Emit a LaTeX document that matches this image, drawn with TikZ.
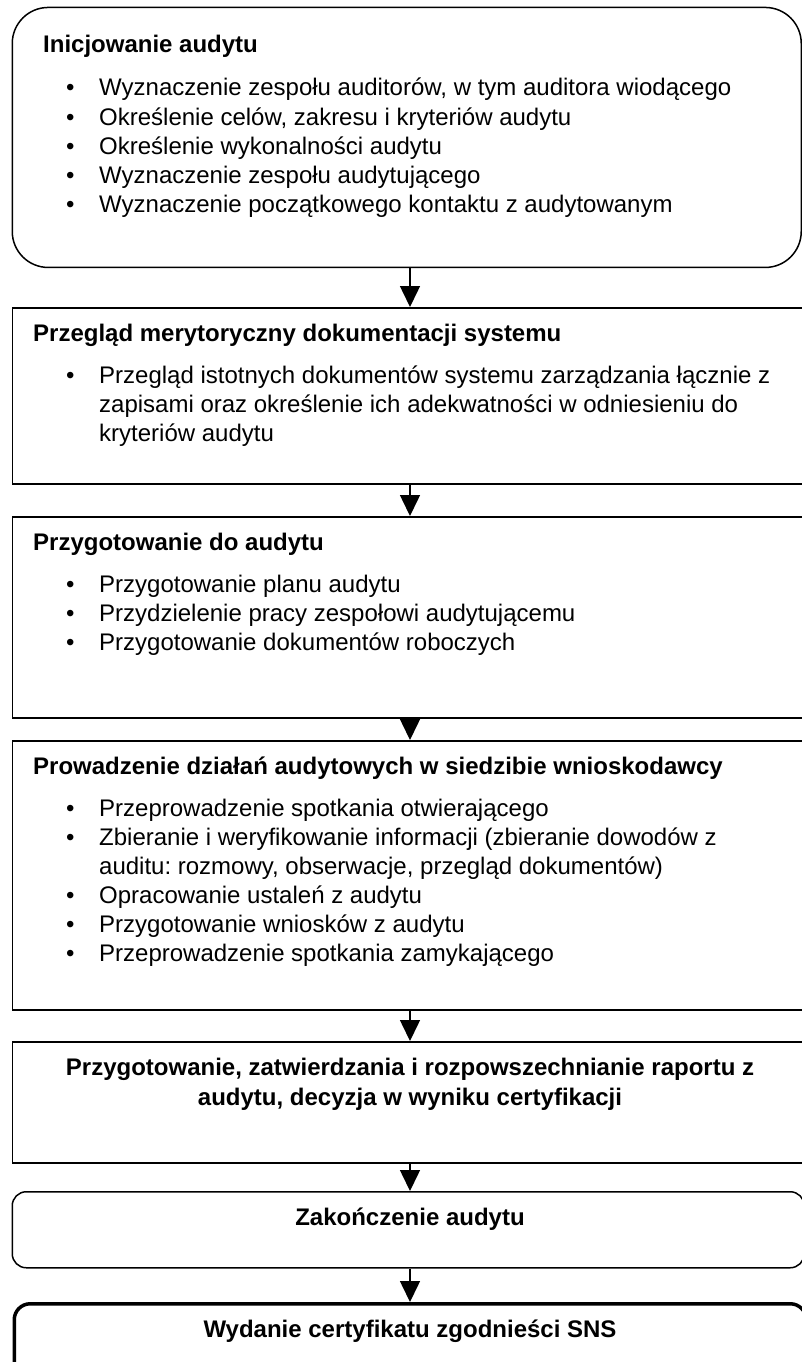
\documentclass[tikz,border=0pt]{standalone}
\usepackage{fontspec}
\setmainfont{Liberation Sans}
\usetikzlibrary{arrows.meta,calc}
\frenchspacing
\begin{document}
\begin{tikzpicture}[x=1pt,y=-1pt,
  box/.style={draw=black, line width=1.5pt, rectangle, anchor=north west, inner sep=0pt, minimum width=792pt},
  conn/.style={line width=1.5pt, -{Triangle[width=20pt,length=21pt]}},
  ttl/.style={anchor=base west, inner sep=0pt, font=\fontsize{24}{29}\selectfont\bfseries},
  txt/.style={anchor=base west, inner sep=0pt, font=\fontsize{24}{29}\selectfont},
  bul/.style={anchor=base west, inner sep=0pt, font=\fontsize{24}{29}\selectfont},
  ctr/.style={anchor=base, inner sep=0pt, font=\fontsize{24}{29}\selectfont\bfseries},
]
\useasboundingbox (0,0) rectangle (801,1362);
\fill[white] (0,0) rectangle (801,1362);

% boxes
\node[box, rounded corners=36pt, minimum width=789pt, minimum height=260pt] (b1) at (11.5,6.7) {};
\node[box, minimum height=176pt] (b2) at (11.5,307) {};
\node[box, minimum height=201pt] (b3) at (11.5,516) {};
\node[box, minimum height=269pt] (b4) at (11.5,740) {};
\node[box, minimum height=121pt] (b5) at (11.5,1041) {};
\node[box, rounded corners=14pt, minimum height=76pt] (b6) at (11.5,1191) {};
\node[box, rounded corners=16pt, line width=3.5pt, minimum height=100pt] (b7) at (12.5,1302) {};

% arrows
\coordinate (ax) at (410,0);
\draw[conn] (b1.south -| ax) -- (b2.north -| ax);
\draw[conn] (b2.south -| ax) -- (b3.north -| ax);
\draw[conn] (b3.south -| ax) -- (b4.north -| ax);
\draw[conn] (b4.south -| ax) -- (b5.north -| ax);
\draw[conn] (b5.south -| ax) -- (b6.north -| ax);
\draw[conn] (b6.south -| ax) -- (b7.north -| ax);

% box 1
\node[ttl] (t1) at (43,53) {Inicjowanie audytu};
\node[bul] (t1b1) at (66,96) {•};
\node[txt] (t1l1) at (99,96) {Wyznaczenie zespołu auditorów, w tym auditora wiodącego};
\node[bul] (t1b2) at (66,125) {•};
\node[txt] (t1l2) at (99,125) {Określenie celów, zakresu i kryteriów audytu};
\node[bul] (t1b3) at (66,154) {•};
\node[txt] (t1l3) at (99,154) {Określenie wykonalności audytu};
\node[bul] (t1b4) at (66,183) {•};
\node[txt] (t1l4) at (99,183) {Wyznaczenie zespołu audytującego};
\node[bul] (t1b5) at (66,212) {•};
\node[txt] (t1l5) at (99,212) {Wyznaczenie początkowego kontaktu z audytowanym};

% box 2
\node[ttl] (t2) at (33,341) {Przegląd merytoryczny dokumentacji systemu};
\node[bul] (t2b1) at (66,383) {•};
\node[txt] (t2l1) at (99,383) {Przegląd istotnych dokumentów systemu zarządzania łącznie z};
\node[txt] (t2l2) at (99,412) {zapisami oraz określenie ich adekwatności w odniesieniu do};
\node[txt] (t2l3) at (99,441) {kryteriów audytu};

% box 3
\node[ttl] (t3) at (33,550) {Przygotowanie do audytu};
\node[bul] (t3b1) at (66,592) {•};
\node[txt] (t3l1) at (99,592) {Przygotowanie planu audytu};
\node[bul] (t3b2) at (66,621) {•};
\node[txt] (t3l2) at (99,621) {Przydzielenie pracy zespołowi audytującemu};
\node[bul] (t3b3) at (66,650) {•};
\node[txt] (t3l3) at (99,650) {Przygotowanie dokumentów roboczych};

% box 4
\node[ttl] (t4) at (33,774) {Prowadzenie działań audytowych w siedzibie wnioskodawcy};
\node[bul] (t4b1) at (66,816) {•};
\node[txt] (t4l1) at (99,816) {Przeprowadzenie spotkania otwierającego};
\node[bul] (t4b2) at (66,845) {•};
\node[txt] (t4l2) at (99,845) {Zbieranie i weryfikowanie informacji (zbieranie dowodów z};
\node[txt] (t4l2b) at (99,874) {auditu: rozmowy, obserwacje, przegląd dokumentów)};
\node[bul] (t4b3) at (66,903) {•};
\node[txt] (t4l3) at (99,903) {Opracowanie ustaleń z audytu};
\node[bul] (t4b4) at (66,932) {•};
\node[txt] (t4l4) at (99,932) {Przygotowanie wniosków z audytu};
\node[bul] (t4b5) at (66,961) {•};
\node[txt] (t4l5) at (99,961) {Przeprowadzenie spotkania zamykającego};

% box 5
\node[ctr] (t5a) at (410,1075) {Przygotowanie, zatwierdzania i rozpowszechnianie raportu z};
\node[ctr] (t5b) at (410,1105) {audytu, decyzja w wyniku certyfikacji};

% box 6
\node[ctr] (t6) at (410,1225) {Zakończenie audytu};

% box 7
\node[ctr] (t7) at (410,1337) {Wydanie certyfikatu zgodnieści SNS};
\end{tikzpicture}
\end{document}
